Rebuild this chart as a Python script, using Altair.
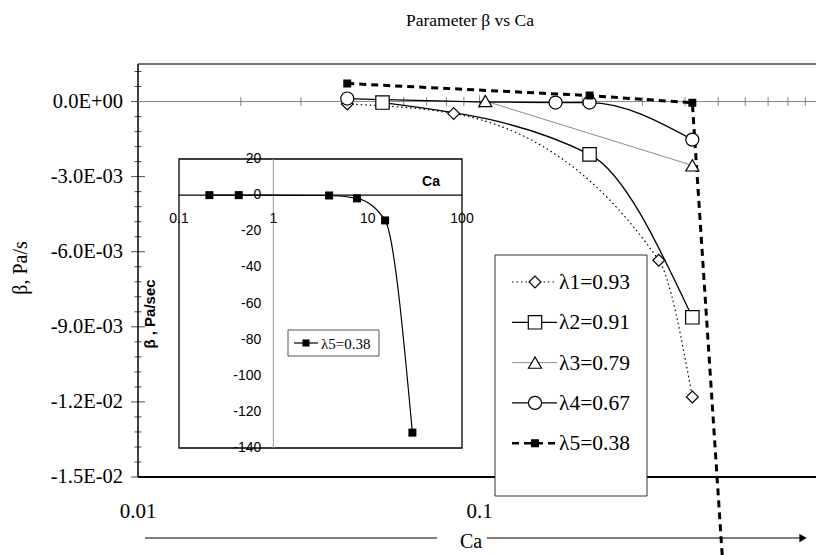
import altair as alt
import pandas as pd

# beta (Pa/s) against capillary number Ca for five viscosity ratios
series_labels = ["λ1=0.93", "λ2=0.91", "λ3=0.79", "λ4=0.67", "λ5=0.38"]

ca_1 = [0.041, 0.084, 0.335, 0.42]
beta_1 = [-0.0001, -0.00048, -0.00634, -0.0118]

ca_2 = [0.052, 0.21, 0.42]
beta_2 = [-0.00004, -0.00211, -0.00862]

ca_3 = [0.104, 0.42]
beta_3 = [0.00002, -0.00255]

ca_4 = [0.041, 0.167, 0.21, 0.42]
beta_4 = [0.00012, -0.00004, -0.00004, -0.00152]

ca_5 = [0.041, 0.21, 0.42, 3.9]
beta_5 = [0.00072, 0.00024, -0.00005, -0.2]

# inset: lambda5 over the wider Ca range, beta in Pa/sec
inset_label = "λ5=0.38"
inset_ca = [0.21, 0.43, 3.9, 7.7, 15.3, 29.8]
inset_beta = [0.0, 0.0, -0.2, -1.8, -14.0, -131.5]

# ticks
y_major = [-0.015, -0.012, -0.009, -0.006, -0.003, 0.0]
y_minor = [round(-0.015 + 0.0006 * i, 4) for i in range(28) if i % 5]
x_minor = [0.02, 0.03, 0.04, 0.05, 0.06, 0.07, 0.08, 0.09,
           0.2, 0.3, 0.4, 0.5, 0.6, 0.7, 0.8, 0.9]
x_major = [0.1]
x_labels = [0.01, 0.1]
x_label_text = ["0.01", "0.1"]
inset_y_ticks = [20, 0, -20, -40, -60, -80, -100, -120, -140]
inset_x_ticks = [0.1, 1, 10, 100]
inset_x_text = ["0.1", "1", "10", "100"]

SERIF = "Liberation Serif"
SANS = "Liberation Sans"

# page layout
VL, VT = 138, 64              # top-left corner of the main plot area
W, H = 816 - VL, 477 - VT     # the log axis runs on past the right page edge

x_main = alt.Scale(type="log", domain=[0.01, 1], range=[0, 683])
y_main = alt.Scale(domain=[-0.015, 0.0015], range=[H, 0], nice=False, zero=False)


def X(field="Ca"):
    return alt.X(f"{field}:Q", scale=x_main, axis=None)


def Y(field="beta"):
    return alt.Y(f"{field}:Q", scale=y_main, axis=None)


def XD(v):
    return alt.X(datum=v, type="quantitative", scale=x_main, axis=None)


def YD(v):
    return alt.Y(datum=v, type="quantitative", scale=y_main, axis=None)


styles = [
    dict(shape="diamond", size=140, fill="white", dash=[1.5, 3], width=1.2,
         color="black", interp="monotone"),
    dict(shape="square", size=180, fill="white", dash=None, width=1.3,
         color="black", interp="monotone"),
    dict(shape="triangle-up", size=170, fill="white", dash=None, width=0.8,
         color="#6e6e6e", interp="monotone"),
    dict(shape="circle", size=170, fill="white", dash=None, width=1.3,
         color="black", interp="monotone"),
    dict(shape="square", size=45, fill="black", dash=[7, 5], width=3,
         color="black", interp="linear"),
]
series = [(ca_1, beta_1), (ca_2, beta_2), (ca_3, beta_3), (ca_4, beta_4), (ca_5, beta_5)]


def line_props(st):
    p = dict(color=st["color"], strokeWidth=st["width"], interpolate=st["interp"], clip=False)
    if st["dash"]:
        p["strokeDash"] = st["dash"]
    return p


def point_props(st):
    return dict(shape=st["shape"], size=st["size"], filled=True, fill=st["fill"],
                stroke="black", strokeWidth=1.2, opacity=1, fillOpacity=1)


def const(value):
    return pd.DataFrame({"t": [value]})


main_layers = []

# frame: top and bottom edges
main_layers.append(alt.Chart(const("")).mark_rule(color="#444", strokeWidth=1.5).encode(
    x=alt.value(0), x2=alt.value(W), y=alt.value(0)))
main_layers.append(alt.Chart(const("")).mark_rule(color="black", strokeWidth=2).encode(
    x=alt.value(0), x2=alt.value(W), y=alt.value(H)))

# y axis: line, crossing ticks and scientific labels
main_layers.append(alt.Chart(const("")).mark_rule(color="black", strokeWidth=1.5).encode(
    x=XD(0.01), y=YD(-0.015), y2=alt.Y2(datum=0.0015)))
main_layers.append(alt.Chart(pd.DataFrame({"beta": y_major})).mark_tick(
    orient="horizontal", size=14, thickness=1, color="black").encode(x=XD(0.01), y=Y()))
main_layers.append(alt.Chart(pd.DataFrame({"beta": y_minor})).mark_tick(
    orient="horizontal", size=7, thickness=1, color="black").encode(x=XD(0.01), y=Y()))
main_layers.append(alt.Chart(pd.DataFrame(
    {"beta": y_major, "t": [f"{v:.1E}" for v in y_major]})).mark_text(
    font=SERIF, fontSize=20.5, align="right", baseline="middle", dx=-15, color="black").encode(
    x=XD(0.01), y=Y(), text="t:N"))

# zero line with log ticks; Ca labels under the frame
main_layers.append(alt.Chart(pd.DataFrame({"Ca": [0.01, 1]})).mark_line(
    color="#8a8a8a", strokeWidth=1, clip=False).encode(x=X(), y=YD(0)))
main_layers.append(alt.Chart(pd.DataFrame({"Ca": x_minor})).mark_tick(
    orient="vertical", size=9, thickness=1, color="#555", clip=False).encode(x=X(), y=YD(0)))
main_layers.append(alt.Chart(pd.DataFrame({"Ca": x_major})).mark_tick(
    orient="vertical", size=13, thickness=1, color="#555").encode(x=X(), y=YD(0)))
main_layers.append(alt.Chart(pd.DataFrame({"Ca": x_labels, "t": x_label_text})).mark_text(
    font=SERIF, fontSize=21, align="center", baseline="middle", dy=35, color="black").encode(
    x=X(), y=YD(-0.015), text="t:N"))

# data series
for (ca, beta), st in zip(series, styles):
    df = pd.DataFrame({"Ca": ca, "beta": beta})
    main_layers.append(alt.Chart(df).mark_line(**line_props(st)).encode(x=X(), y=Y()))
for (ca, beta), st in zip(series, styles):
    df = pd.DataFrame({"Ca": ca, "beta": beta})
    main_layers.append(alt.Chart(df).mark_point(**point_props(st), clip=True).encode(x=X(), y=Y()))

# legend
LX0, LY0, LX1, LY1 = 495 - VL, 255 - VT, 647 - VL, 496 - VT
main_layers.append(alt.Chart(const("")).mark_rect(
    fill="white", stroke="#333", strokeWidth=1).encode(
    x=alt.value(LX0), x2=alt.value(LX1), y=alt.value(LY0), y2=alt.value(LY1)))
for i, (lab, st) in enumerate(zip(series_labels, styles)):
    ry = 282 - VT + 40.3 * i
    lp = dict(color=st["color"], strokeWidth=min(st["width"], 2.6))
    if st["dash"]:
        lp["strokeDash"] = st["dash"]
    main_layers.append(alt.Chart(const("")).mark_rule(**lp).encode(
        x=alt.value(512 - VL), x2=alt.value(557 - VL), y=alt.value(ry)))
    main_layers.append(alt.Chart(const("")).mark_point(**point_props(st)).encode(
        x=alt.value(535 - VL), y=alt.value(ry)))
    main_layers.append(alt.Chart(const(lab)).mark_text(
        font=SERIF, fontSize=21.5, align="left", baseline="middle", color="black").encode(
        x=alt.value(559 - VL), y=alt.value(ry + 1), text="t:N"))

# title, y title, Ca arrow underneath
main_layers.append(alt.Chart(const("Parameter β vs Ca")).mark_text(
    font=SERIF, fontSize=17.5, color="black").encode(
    x=alt.value(470 - VL), y=alt.value(21 - VT), text="t:N"))
main_layers.append(alt.Chart(const("β, Pa/s")).mark_text(
    font=SERIF, fontSize=20, angle=270, color="black").encode(
    x=alt.value(21 - VL), y=alt.value(268 - VT), text="t:N"))
main_layers.append(alt.Chart(const("Ca")).mark_text(
    font=SERIF, fontSize=20, color="black").encode(
    x=alt.value(471 - VL), y=alt.value(542 - VT), text="t:N"))
main_layers.append(alt.Chart(const("")).mark_rule(color="black", strokeWidth=1.2).encode(
    x=alt.value(145 - VL), x2=alt.value(437 - VL), y=alt.value(538 - VT)))
main_layers.append(alt.Chart(const("")).mark_rule(color="black", strokeWidth=1.2).encode(
    x=alt.value(487 - VL), x2=alt.value(800 - VL), y=alt.value(538 - VT)))
main_layers.append(alt.Chart(const("")).mark_point(
    shape="triangle-right", size=70, filled=True, color="black", opacity=1).encode(
    x=alt.value(803 - VL), y=alt.value(538 - VT)))

main = alt.layer(*main_layers)

# ---------------- inset ----------------
x_in = alt.Scale(type="log", domain=[0.1, 100], range=[179 - VL, 462 - VL])
y_in = alt.Scale(domain=[-140, 20], range=[448 - VT, 159 - VT], nice=False, zero=False)


def XI(field="Ca"):
    return alt.X(f"{field}:Q", scale=x_in, axis=None)


def YI(field="beta"):
    return alt.Y(f"{field}:Q", scale=y_in, axis=None)


inset_layers = []
inset_layers.append(alt.Chart(pd.DataFrame(
    {"Ca": [inset_x_ticks[0]], "Ca2": [inset_x_ticks[-1]],
     "beta": [inset_y_ticks[-1]], "beta2": [inset_y_ticks[0]]})).mark_rect(
    fill="white", stroke="black", strokeWidth=1.3).encode(
    x=XI(), x2="Ca2:Q", y=YI(), y2="beta2:Q"))
inset_layers.append(alt.Chart(pd.DataFrame(
    {"Ca": [1], "beta": [inset_y_ticks[-1]], "beta2": [inset_y_ticks[0]]})).mark_rule(
    color="#9a9a9a", strokeWidth=1).encode(x=XI(), y=YI(), y2="beta2:Q"))
inset_layers.append(alt.Chart(pd.DataFrame(
    {"Ca": [inset_x_ticks[0]], "Ca2": [inset_x_ticks[-1]], "beta": [0]})).mark_rule(
    color="black", strokeWidth=1.2).encode(x=XI(), x2="Ca2:Q", y=YI()))
inset_layers.append(alt.Chart(pd.DataFrame(
    {"Ca": [1] * len(inset_y_ticks), "beta": inset_y_ticks,
     "t": [str(v) for v in inset_y_ticks]})).mark_text(
    font=SANS, fontSize=14, align="right", baseline="middle", dx=-12, color="black").encode(
    x=XI(), y=YI(), text="t:N"))
inset_layers.append(alt.Chart(pd.DataFrame(
    {"Ca": inset_x_ticks, "beta": [0] * len(inset_x_ticks), "t": inset_x_text})).mark_text(
    font=SANS, fontSize=14, align="center", baseline="middle", dy=24, color="black").encode(
    x=XI(), y=YI(), text="t:N"))

idf = pd.DataFrame({"Ca": inset_ca, "beta": inset_beta})
inset_layers.append(alt.Chart(idf).mark_line(
    color="black", strokeWidth=1.2, interpolate="monotone").encode(x=XI(), y=YI()))
inset_layers.append(alt.Chart(idf).mark_point(
    shape="square", size=64, filled=True, color="black", opacity=1).encode(x=XI(), y=YI()))

# inset titles
inset_layers.append(alt.Chart(const("Ca")).mark_text(
    font=SANS, fontSize=14, fontWeight="bold", color="black").encode(
    x=alt.value(431 - VL), y=alt.value(182 - VT), text="t:N"))
inset_layers.append(alt.Chart(const("β , Pa/sec")).mark_text(
    font=SANS, fontSize=15, fontWeight="bold", angle=270, color="black").encode(
    x=alt.value(150 - VL), y=alt.value(314 - VT), text="t:N"))

# inset legend
inset_layers.append(alt.Chart(const("")).mark_rect(
    fill="white", stroke="#555", strokeWidth=1).encode(
    x=alt.value(288 - VL), x2=alt.value(379 - VL), y=alt.value(330 - VT), y2=alt.value(356 - VT)))
inset_layers.append(alt.Chart(const("")).mark_rule(color="black", strokeWidth=1.2).encode(
    x=alt.value(294 - VL), x2=alt.value(318 - VL), y=alt.value(343 - VT)))
inset_layers.append(alt.Chart(const("")).mark_point(
    shape="square", size=50, filled=True, color="black", opacity=1).encode(
    x=alt.value(306 - VL), y=alt.value(343 - VT)))
inset_layers.append(alt.Chart(const(inset_label)).mark_text(
    font=SERIF, fontSize=15, align="left", baseline="middle", color="black").encode(
    x=alt.value(321 - VL), y=alt.value(344 - VT), text="t:N"))

inset = alt.layer(*inset_layers)

chart = alt.layer(main, inset).resolve_scale(
    x="independent", y="independent"
).properties(
    width=W, height=H,
    padding={"left": VL, "top": VT, "right": 0, "bottom": 555 - 477},
    autosize=alt.AutoSizeParams(type="none"),
    background="white",
).configure_view(stroke=None)

chart.save("out.html", embed_options={"renderer": "svg", "actions": False})
